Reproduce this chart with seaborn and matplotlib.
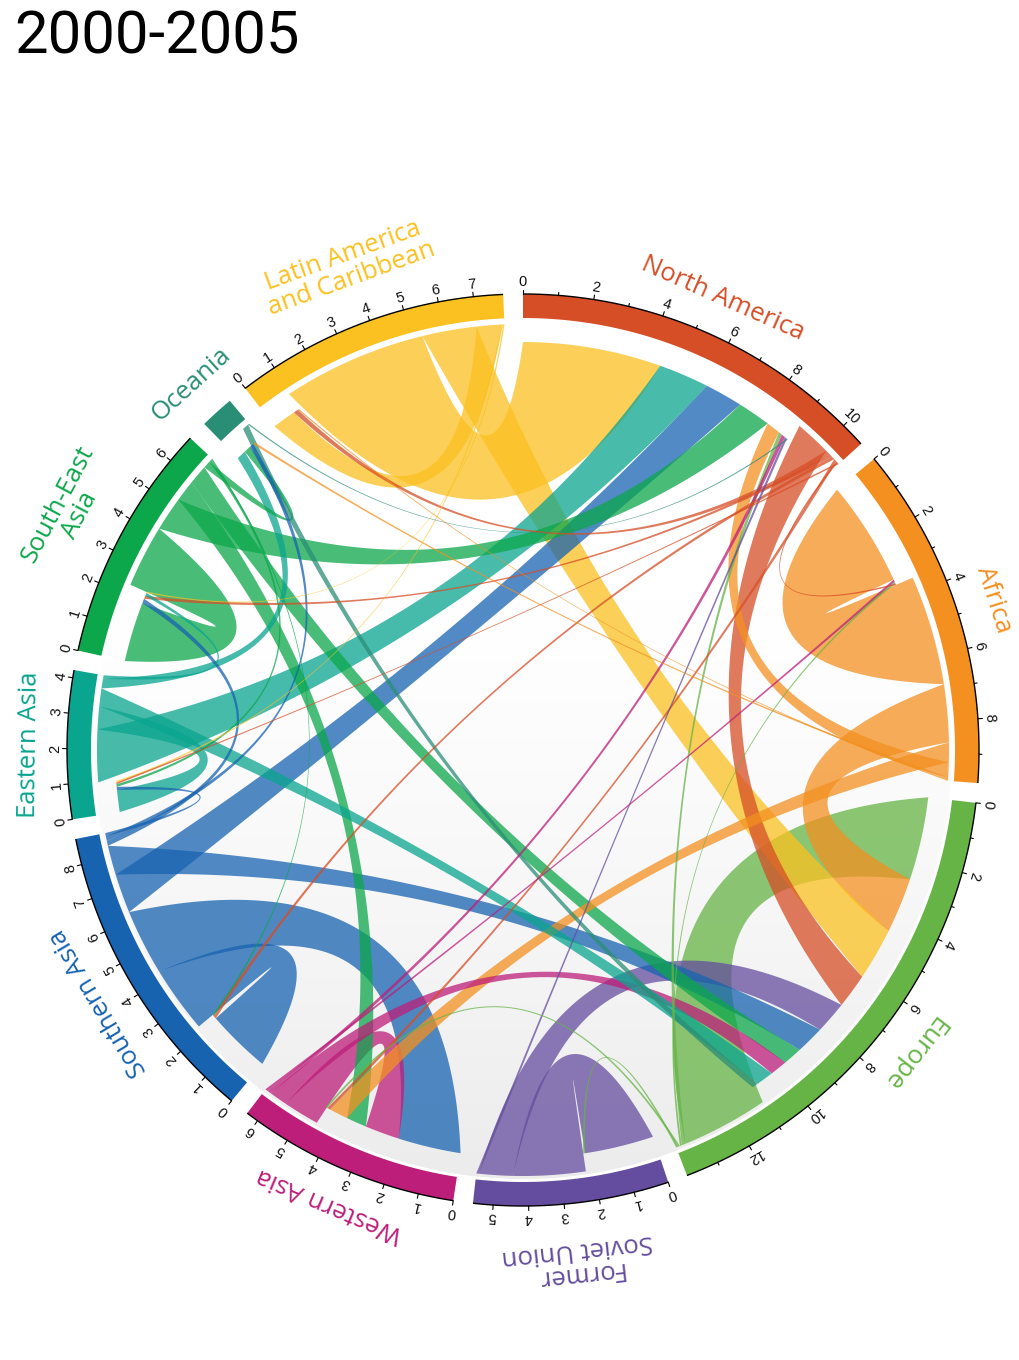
import numpy as np
import pandas as pd
import seaborn as sns
import matplotlib
matplotlib.use("Agg")
import matplotlib.pyplot as plt
from matplotlib.patches import Polygon, Circle

sns.set_style("white")

# ---------------- data (millions of migrants, 2000-2005) ----------------
regions = ["North America", "Africa", "Europe", "Former Soviet Union",
           "Western Asia", "Southern Asia", "Eastern Asia", "South-East Asia",
           "Oceania", "Latin America and Caribbean"]
region_labels = ["North America", "Africa", "Europe", "Former\nSoviet Union",
                 "Western Asia", "Southern Asia", "Eastern Asia", "South-East\nAsia",
                 "Oceania", "Latin America\nand Caribbean"]
region_colors = ["#D64E26", "#F39020", "#66B445", "#644D9E", "#BD1E7A",
                 "#1763B0", "#0AA58F", "#0CA74B", "#2A8E76", "#FBC120"]

flow_from = ["North America", "North America", "North America", "North America", "North America", "North America", "North America",
             "Africa", "Africa", "Africa", "Africa", "Africa", "Africa",
             "Europe", "Europe", "Europe", "Europe", "Europe",
             "Former Soviet Union", "Former Soviet Union", "Former Soviet Union",
             "Western Asia", "Western Asia", "Western Asia", "Western Asia",
             "Southern Asia", "Southern Asia", "Southern Asia", "Southern Asia", "Southern Asia", "Southern Asia", "Southern Asia",
             "Eastern Asia", "Eastern Asia", "Eastern Asia", "Eastern Asia", "Eastern Asia",
             "South-East Asia", "South-East Asia", "South-East Asia", "South-East Asia", "South-East Asia", "South-East Asia", "South-East Asia",
             "Oceania", "Oceania",
             "Latin America and Caribbean", "Latin America and Caribbean", "Latin America and Caribbean",
             "Latin America and Caribbean", "Latin America and Caribbean"]
flow_to = ["Europe", "Latin America and Caribbean", "South-East Asia", "Southern Asia", "Western Asia", "Africa", "Eastern Asia",
           "Africa", "Europe", "Western Asia", "North America", "Oceania", "Latin America and Caribbean",
           "Europe", "North America", "Africa", "Western Asia", "Former Soviet Union",
           "Former Soviet Union", "Europe", "North America",
           "Western Asia", "Europe", "North America", "Africa",
           "Southern Asia", "Western Asia", "North America", "Europe", "South-East Asia", "Oceania", "Eastern Asia",
           "North America", "Europe", "Eastern Asia", "Oceania", "South-East Asia",
           "South-East Asia", "North America", "Western Asia", "Europe", "Oceania", "Eastern Asia", "Southern Asia",
           "Europe", "North America",
           "North America", "Europe", "Latin America and Caribbean", "Eastern Asia", "South-East Asia"]
flow_value = [1.10, 0.15, 0.10, 0.10, 0.10, 0.05, 0.05,
              3.35, 1.76, 0.60, 0.45, 0.07, 0.04,
              2.65, 0.12, 0.06, 0.06, 0.06,
              2.20, 1.03, 0.08,
              1.10, 0.55, 0.12, 0.08,
              2.05, 2.00, 1.20, 0.90, 0.15, 0.14, 0.10,
              1.60, 0.54, 0.70, 0.30, 0.10,
              1.90, 1.05, 0.65, 0.60, 0.22, 0.08, 0.05,
              0.20, 0.04,
              4.40, 1.66, 0.75, 0.05, 0.04]

title = "2000-2005"

# ---------------- layout constants ----------------
W, H = 1019, 1360
cx, cy = 523, 750
R_OUT, R_IN = 456, 432
R_DISK = 429
R_ORIG, R_DEST = 426, 408
GAP = 2.5
START = 0.0
ALPHA = 0.75

flows = pd.DataFrame({"src": flow_from, "dst": flow_to, "val": flow_value})
n = len(regions)
totals = {r: flows.loc[flows.src == r, "val"].sum() + flows.loc[flows.dst == r, "val"].sum()
          for r in regions}
U = sum(totals.values())
dpu = (360 - n * GAP) / U

seg_start = {}
a = START
for r in regions:
    seg_start[r] = a
    a += totals[r] * dpu + GAP

# position of each flow end within segments: inflows first, then outflows (each sorted by size)
orig_span, dest_span = {}, {}
for r in regions:
    pos = seg_start[r]
    inc = flows[flows.dst == r].sort_values("val", ascending=False)
    for idx, row in inc.iterrows():
        dest_span[idx] = (pos, pos + row.val * dpu)
        pos += row.val * dpu
    out = flows[flows.src == r].sort_values("val", ascending=False)
    for idx, row in out.iterrows():
        orig_span[idx] = (pos, pos + row.val * dpu)
        pos += row.val * dpu


def pt(theta, r):
    t = np.radians(theta)
    return np.array([cx + r * np.sin(t), cy - r * np.cos(t)])


def arc(a1, a2, r, npts=40):
    th = np.radians(np.linspace(a1, a2, npts))
    return np.column_stack([cx + r * np.sin(th), cy - r * np.cos(th)])


def bez(t1, r1, t2, r2, npts=60):
    d = (t2 - t1) % 360
    if d > 180:
        d -= 360
    theta = abs(d)
    mid = t1 + d / 2
    c = 0.28 + 0.32 * max(0.0, 1 - theta / 60.0)
    rc = c * (r1 + r2) / 2
    p0, p2, cp = pt(t1, r1), pt(t2, r2), pt(mid, rc)
    t = np.linspace(0, 1, npts)[:, None]
    return (1 - t) ** 2 * p0 + 2 * (1 - t) * t * cp + t ** 2 * p2


fig = plt.figure(figsize=(W / 100, H / 100), dpi=100)
ax = fig.add_axes([0, 0, 1, 1])
ax.set_xlim(0, W)
ax.set_ylim(H, 0)
ax.set_aspect("equal")
ax.axis("off")

# background disk with soft vertical gradient
yy = np.linspace(cy - R_DISK, cy + R_DISK, 400)
v = np.clip((yy - (cy - 150)) / (R_DISK + 150), 0, 1) ** 1.3
g = 1 - 0.075 * v
img = np.repeat(np.stack([g, g, g * 1.004], axis=-1)[:, None, :], 2, axis=1)
img = np.clip(img, 0, 1)
im = ax.imshow(img, extent=(cx - R_DISK, cx + R_DISK, cy + R_DISK, cy - R_DISK),
               origin="upper", aspect="auto", zorder=0, interpolation="bilinear")
im.set_clip_path(Circle((cx, cy), R_DISK, transform=ax.transData))

# chords
col_of = dict(zip(regions, region_colors))
order = flows.sort_values("val", ascending=False).index
for idx in order:
    row = flows.loc[idx]
    a1, a2 = orig_span[idx]
    b1, b2 = dest_span[idx]
    pts = np.vstack([arc(a1, a2, R_ORIG, 20),
                     bez(a2, R_ORIG, b1, R_DEST),
                     arc(b1, b2, R_DEST, 20),
                     bez(b2, R_DEST, a1, R_ORIG)])
    ax.add_patch(Polygon(pts, closed=True, facecolor=col_of[row.src], edgecolor="none",
                         alpha=ALPHA, zorder=2))

# segment bands, axis, ticks, labels
for r, lab, colr in zip(regions, region_labels, region_colors):
    s = seg_start[r]
    e = s + totals[r] * dpu
    band = np.vstack([arc(s, e, R_OUT, 80), arc(e, s, R_IN, 80)])
    ax.add_patch(Polygon(band, closed=True, facecolor=colr, edgecolor="none", zorder=3))
    if totals[r] >= 2:
        ln = arc(s, e, R_OUT, 120)
        ax.plot(ln[:, 0], ln[:, 1], color="black", lw=1.0, zorder=4, solid_capstyle="butt")
        step = 2 if totals[r] > 9 else 1
        k = 0
        while k <= totals[r] + 1e-9:
            th = s + k * dpu
            major = (k % step == 0)
            p1, p2 = pt(th, R_OUT), pt(th, R_OUT + (4.5 if major else 3))
            ax.plot([p1[0], p2[0]], [p1[1], p2[1]], color="black", lw=0.8, zorder=4)
            if major:
                q = pt(th, R_OUT + 12)
                ax.text(q[0], q[1], str(k), rotation=-th, rotation_mode="anchor",
                        ha="center", va="center", fontsize=10.5, family="Liberation Sans",
                        color="#111111", zorder=5)
            k += 1
    mid = (s + e) / 2
    rl = 514 if "\n" in lab else 494
    q = pt(mid, rl)
    ax.text(q[0], q[1], lab, rotation=-mid, rotation_mode="anchor", ha="center", va="center",
            multialignment="center", fontsize=18.5, family="Open Sans", color=colr,
            linespacing=0.95, zorder=5)

ax.text(14, 9, title, ha="left", va="top", fontsize=43, family="Roboto",
        fontweight="normal", color="black")

fig.savefig("out.png", dpi=100)
